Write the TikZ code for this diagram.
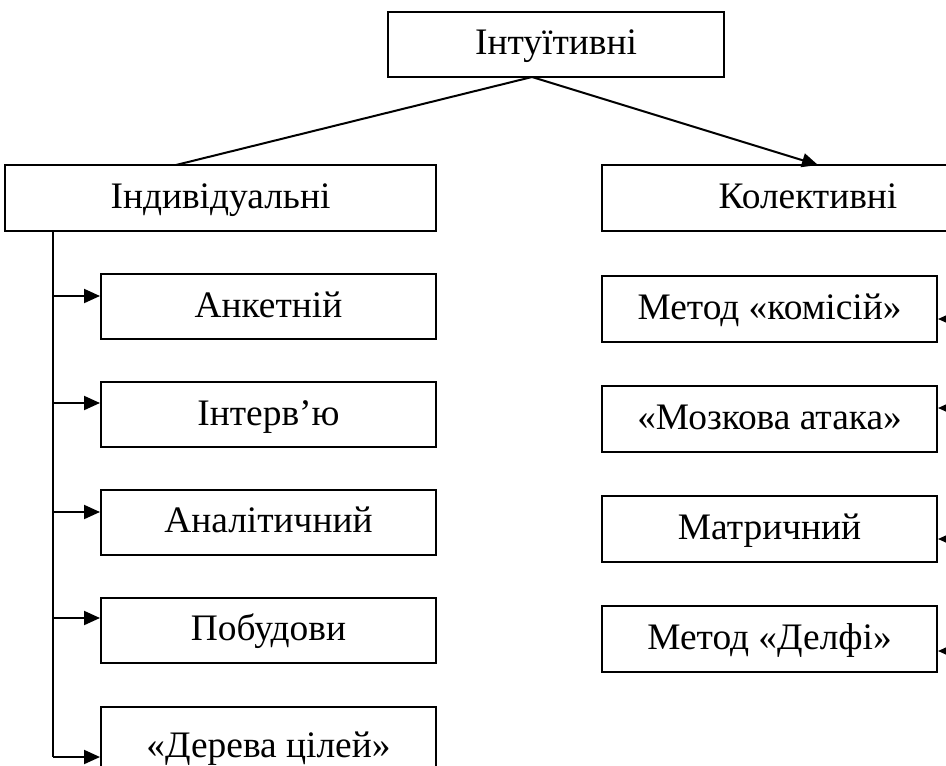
\documentclass[tikz,border=0pt]{standalone}
\usepackage{fontspec}
\setmainfont{Liberation Serif}
\usetikzlibrary{arrows.meta, positioning}

\tikzset{
  blok/.style={draw, line width=1pt, inner sep=0pt, minimum height=32.5pt,
    text height=12pt, text depth=1.5pt, font=\fontsize{18.7}{21}\selectfont},
  metod/.style={blok, minimum width=167.5pt},
  strilka/.style={-{Triangle[length=8pt, width=7pt]}, line width=1pt},
  liniya/.style={line width=1pt}
}

\begin{document}
\begin{tikzpicture}[x=0.5pt, y=-0.5pt]
    \useasboundingbox (0,0) rectangle (946,765);
    \clip (0,0) rectangle (946,765);

    % Верхній блок "Інтуїтивні"
    \node[blok, minimum width=168pt] (intuit) at (556,44.5) {Інтуїтивні};

    % Дві групи методів
    \node[blok, minimum width=215.5pt, minimum height=33pt] (indyv) at (220.5,198) {Індивідуальні};
    \node[blok, minimum width=206pt, minimum height=33pt] (kolekt) at (808,198) {Колективні};

    % Індивідуальні методи (ліва колонка)
    \node[metod] (anket) at (268.5,306.5) {Анкетній};
    \node[metod] (interv) at (268.5,414.5) {Інтерв’ю};
    \node[metod] (analit) at (268.5,522) {Аналітичний};
    \node[metod] (pobud) at (268.5,630) {Побудови};
    \node[metod, minimum height=40pt] (dereva) at (268.5,746.5) {«Дерева цілей»};

    % Колективні методи (права колонка)
    \node[metod, minimum height=33pt] (komis) at (769.5,308.5) {Метод «комісій»};
    \node[metod, minimum height=33pt] (mozk) at (769.5,418.5) {«Мозкова атака»};
    \node[metod, minimum height=33pt] (matr) at (769.5,529) {Матричний};
    \node[metod, minimum height=33pt] (delfi) at (769.5,639) {Метод «Делфі»};

    % Лінії від верхнього блоку
    \coordinate (vershyna) at (532,77);
    \coordinate (indvhid) at (176,165);
    \coordinate (kolvhid) at (818,165);
    \draw[liniya] (vershyna) -- (indvhid);
    \draw[strilka] (vershyna) -- (kolvhid);

    % Ліва шина зі стрілками
    \coordinate (l1) at (53,296);
    \coordinate (l2) at (53,403);
    \coordinate (l3) at (53,512);
    \coordinate (l4) at (53,618);
    \coordinate (l5) at (53,757);
    \draw[liniya] (indyv.south -| l1) -- (l5);
    \draw[strilka] (l1) -- (l1 -| anket.west);
    \draw[strilka] (l2) -- (l2 -| interv.west);
    \draw[strilka] (l3) -- (l3 -| analit.west);
    \draw[strilka] (l4) -- (l4 -| pobud.west);
    \draw[strilka] (l5) -- (l5 -| dereva.west);

    % Праві стрілки (шина за краєм)
    \coordinate (r1) at (1000,319);
    \coordinate (r2) at (1000,408);
    \coordinate (r3) at (1000,539);
    \coordinate (r4) at (1000,651);
    \draw[strilka] (r1) -- (r1 -| komis.east);
    \draw[strilka] (r2) -- (r2 -| mozk.east);
    \draw[strilka] (r3) -- (r3 -| matr.east);
    \draw[strilka] (r4) -- (r4 -| delfi.east);
\end{tikzpicture}
\end{document}
